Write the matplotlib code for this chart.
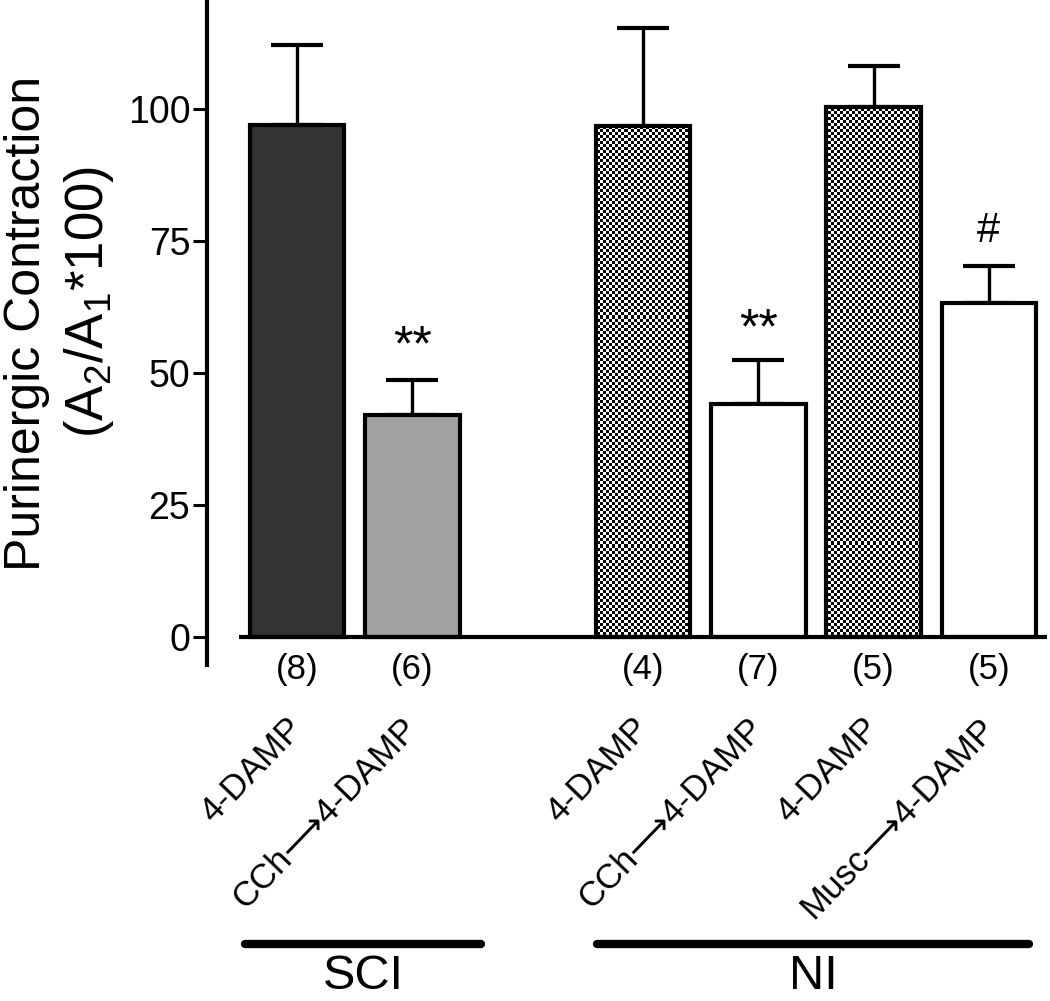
import numpy as np
import matplotlib
matplotlib.use('Agg')
import matplotlib.pyplot as plt
from matplotlib import transforms

plt.rcParams['font.family'] = ['Liberation Sans', 'DejaVu Sans']
plt.rcParams['mathtext.fontset'] = 'custom'
plt.rcParams['mathtext.rm'] = 'Liberation Sans'
plt.rcParams['mathtext.it'] = 'Liberation Sans:italic'

# data
positions = [0, 1, 3, 4, 5, 6]
means = [97.0, 42.0, 96.8, 44.1, 100.4, 63.3]
upper = [112.0, 48.7, 115.3, 52.5, 108.1, 70.3]
n_labels = ['(8)', '(6)', '(4)', '(7)', '(5)', '(5)']
treatments = ['4-DAMP', 'CCh\u27f64-DAMP', '4-DAMP', 'CCh\u27f64-DAMP', '4-DAMP', 'Musc\u27f64-DAMP']
fills = ['#333333', '#a2a2a5', 'checker', 'white', 'checker', 'white']
marks = {1: '**', 3: '**', 5: '#'}
mark_y = {1: 52.3, 3: 55.5, 5: 74.8}
mark_size = {1: 36, 3: 36, 5: 30}
groups = [('SCI', -0.45, 1.6), ('NI', 2.6, 6.35)]

errs = [u - m for u, m in zip(upper, means)]

W, H = 1050, 1001
fig = plt.figure(figsize=(W / 100, H / 100), dpi=100)
ax_left, ax_bottom = 207 / W, (H - 665) / H
ax = fig.add_axes([ax_left, ax_bottom, 1 - ax_left, 665 / H])
xlim = (-0.78, 6.53)
ylim = (-5.3, 120.6)
ax.set_xlim(*xlim)
ax.set_ylim(*ylim)

# checkerboard texture for the hatched bars
ncols, nrows = int((W - 207) / 3), int(665 / 3)
yy, xx = np.indices((nrows, ncols))
checker = ((xx + yy) % 2).astype(float)

bars = ax.bar(positions, means, width=0.82, color='white', edgecolor='black',
              linewidth=3, zorder=3)
for b, f in zip(bars, fills):
    if f == 'checker':
        im = ax.imshow(checker, cmap='gray', extent=(*xlim, *ylim), aspect='auto',
                       interpolation='nearest', zorder=2.5)
        im.set_clip_path(b)
        b.set_facecolor('none')
    else:
        b.set_facecolor(f)

ax.errorbar(positions, means, yerr=[np.zeros(len(errs)), errs], fmt='none',
            ecolor='black', elinewidth=2.4, capsize=19, capthick=3, zorder=2)

ax.hlines(0, -0.5, 6.5, color='black', linewidth=3, zorder=4)

for i, s in marks.items():
    ax.text(positions[i], mark_y[i], s, ha='center', va='baseline',
            fontsize=mark_size[i])

ax.set_xticks([])
ax.set_yticks([0, 25, 50, 75, 100])
ax.tick_params(axis='y', labelsize=27, width=2.2, length=10, pad=2)
for s in ['top', 'right', 'bottom']:
    ax.spines[s].set_visible(False)
ax.spines['left'].set_linewidth(3)
ax.spines['left'].set_bounds(-5.3, 120.6)

# under-axis labels
trans = transforms.blended_transform_factory(ax.transData, fig.transFigure)
for p, n, t in zip(positions, n_labels, treatments):
    ax.text(p, (H - 670) / H, n, transform=trans, ha='center', va='center',
            fontsize=25, clip_on=False)
    ax.text(p - 0.1, (H - 712) / H, t, transform=trans, ha='right', va='top',
            rotation=46, rotation_mode='anchor', fontsize=25, clip_on=False)

for name, x0, x1 in groups:
    ax.plot([x0, x1], [(H - 944) / H] * 2, transform=trans, color='black',
            linewidth=6, solid_capstyle='round', clip_on=False)
    ax.text((x0 + x1) / 2, (H - 999) / H, name, transform=trans, ha='center',
            va='bottom', fontsize=35, clip_on=False)

fig.text(40 / W, 1 - 323 / H, 'Purinergic Contraction', rotation=90,
         rotation_mode='anchor', ha='center', va='baseline', fontsize=36)
fig.text(103 / W, 1 - 302 / H, r'(A$_2$/A$_1$*100)', rotation=90,
         rotation_mode='anchor', ha='center', va='baseline', fontsize=38)

fig.savefig('out.png', dpi=100)
